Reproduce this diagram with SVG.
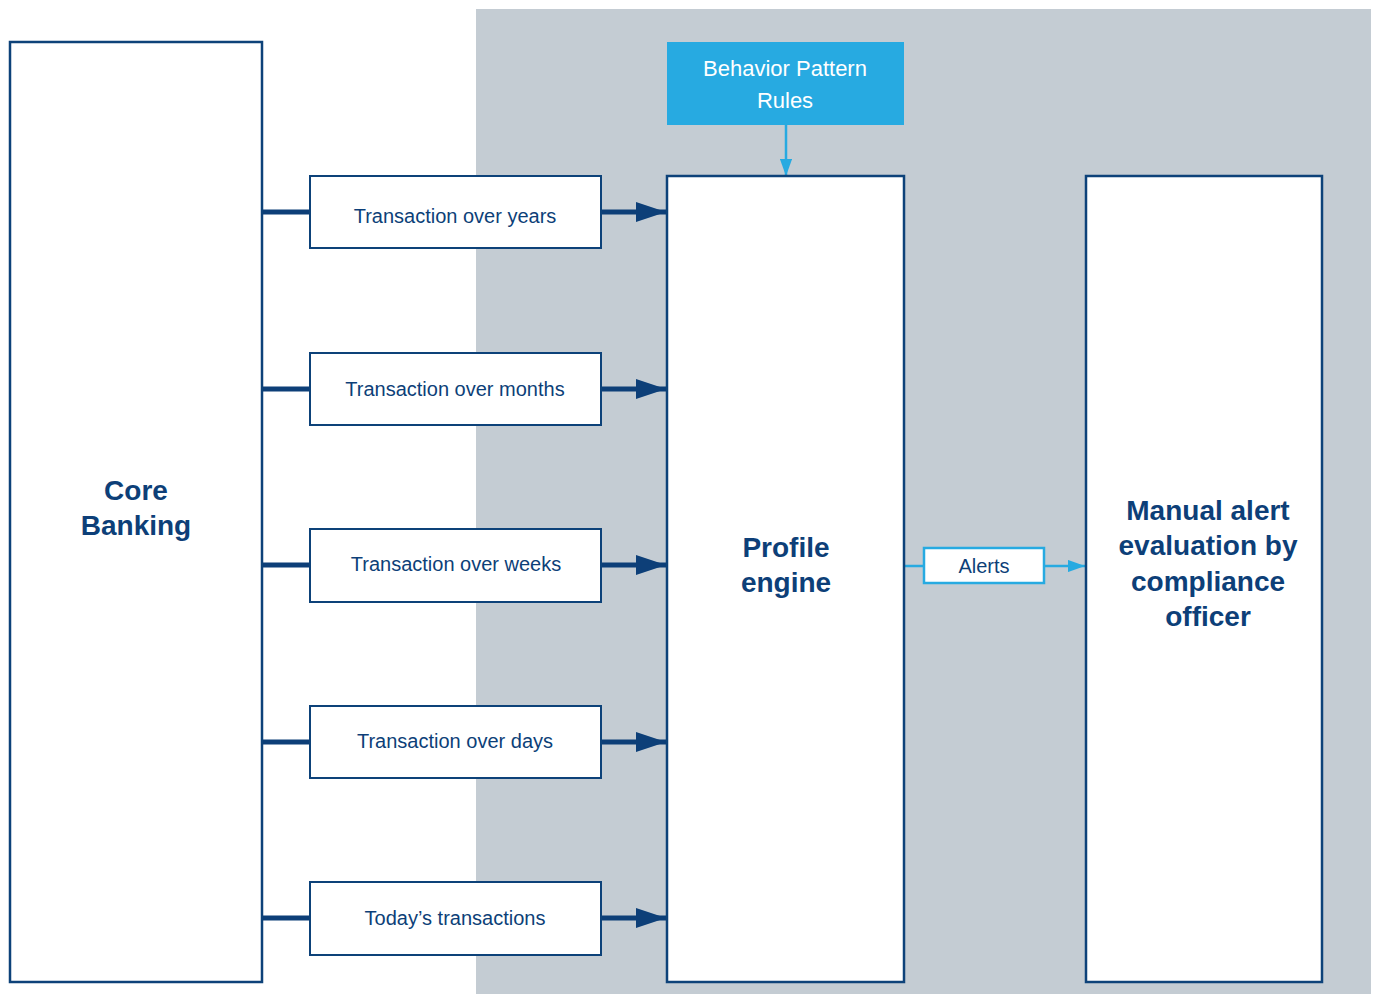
<svg xmlns="http://www.w3.org/2000/svg" width="1378" height="994" viewBox="0 0 1378 994">
<defs>
<style>
.box{fill:#ffffff;stroke:#0d4279;stroke-width:2.5}
.sbox{fill:#ffffff;stroke:#0d4279;stroke-width:2}
.t{font-family:"Liberation Sans",Arial,sans-serif;font-size:20px;fill:#0d3f78;text-anchor:middle}
.b{font-family:"Liberation Sans",Arial,sans-serif;font-size:28px;font-weight:bold;fill:#0d3f78;text-anchor:middle}
.thick{stroke:#0d3f78;stroke-width:5;fill:none}
.lb{stroke:#27aae1;stroke-width:2.5;fill:none}
</style>
<marker id="ah" markerWidth="6" markerHeight="4" refX="6" refY="2" orient="auto" markerUnits="strokeWidth" viewBox="0 0 6 4">
<path d="M0,0 L6,2 L0,4 z" fill="#0d3f78"/>
</marker>
<marker id="ahl" markerWidth="7" markerHeight="5" refX="7" refY="2.5" orient="auto" markerUnits="strokeWidth" viewBox="0 0 7 5">
<path d="M0,0 L7,2.5 L0,5 z" fill="#27aae1"/>
</marker>
</defs>
<rect x="0" y="0" width="1378" height="994" fill="#ffffff"/>
<rect x="476" y="9" width="895" height="985" fill="#c4ccd3"/>

<g id="connectors">
<line class="thick" x1="262" y1="212" x2="310" y2="212"/>
<line class="thick" x1="262" y1="389" x2="310" y2="389"/>
<line class="thick" x1="262" y1="565" x2="310" y2="565"/>
<line class="thick" x1="262" y1="742" x2="310" y2="742"/>
<line class="thick" x1="262" y1="918" x2="310" y2="918"/>
<line class="thick" x1="601" y1="212" x2="666" y2="212" marker-end="url(#ah)"/>
<line class="thick" x1="601" y1="389" x2="666" y2="389" marker-end="url(#ah)"/>
<line class="thick" x1="601" y1="565" x2="666" y2="565" marker-end="url(#ah)"/>
<line class="thick" x1="601" y1="742" x2="666" y2="742" marker-end="url(#ah)"/>
<line class="thick" x1="601" y1="918" x2="666" y2="918" marker-end="url(#ah)"/>
<line class="lb" x1="786" y1="125" x2="786" y2="176" marker-end="url(#ahl)"/>
<line class="lb" x1="904" y1="566" x2="924" y2="566"/>
<line class="lb" x1="1044" y1="566" x2="1085" y2="566" marker-end="url(#ahl)"/>
</g>

<g id="core-banking">
<rect class="box" x="10" y="42" width="252" height="940"/>
<text class="b" x="136" y="500">Core</text>
<text class="b" x="136" y="535">Banking</text>
</g>

<g id="tx-years">
<rect class="sbox" x="310" y="176" width="291" height="72"/>
<text class="t" x="455" y="223">Transaction over years</text>
</g>
<g id="tx-months">
<rect class="sbox" x="310" y="353" width="291" height="72"/>
<text class="t" x="455" y="396">Transaction over months</text>
</g>
<g id="tx-weeks">
<rect class="sbox" x="310" y="529" width="291" height="73"/>
<text class="t" x="456" y="571">Transaction over weeks</text>
</g>
<g id="tx-days">
<rect class="sbox" x="310" y="706" width="291" height="72"/>
<text class="t" x="455" y="748">Transaction over days</text>
</g>
<g id="tx-today">
<rect class="sbox" x="310" y="882" width="291" height="73"/>
<text class="t" x="455" y="925">Today’s transactions</text>
</g>

<g id="behavior-rules">
<rect x="667" y="42" width="237" height="83" fill="#27aae1"/>
<text class="t" x="785" y="76" style="fill:#ffffff;font-size:22px">Behavior Pattern</text>
<text class="t" x="785" y="108" style="fill:#ffffff;font-size:22px">Rules</text>
</g>

<g id="profile-engine">
<rect class="box" x="667" y="176" width="237" height="806"/>
<text class="b" x="786" y="557">Profile</text>
<text class="b" x="786" y="592">engine</text>
</g>

<g id="alerts">
<rect x="924" y="548" width="120" height="35" fill="#ffffff" stroke="#27aae1" stroke-width="2.5"/>
<text class="t" x="984" y="573">Alerts</text>
</g>

<g id="manual-evaluation">
<rect class="box" x="1086" y="176" width="236" height="806"/>
<text class="b" x="1208" y="520">Manual alert</text>
<text class="b" x="1208" y="555">evaluation by</text>
<text class="b" x="1208" y="591">compliance</text>
<text class="b" x="1208" y="626">officer</text>
</g>
</svg>
